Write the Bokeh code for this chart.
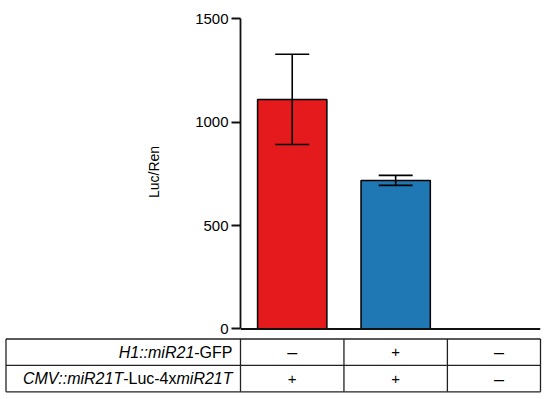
from bokeh.plotting import figure
from bokeh.models import Range1d, ColumnDataSource, Whisker, TeeHead, Span
from bokeh.core.properties import value
from bokeh.embed import file_html
from bokeh.resources import INLINE

# ---- data ----
h1_mir21_gfp = ["\u2013", "+", "\u2013"]
cmv_luc = ["+", "+", "\u2013"]
luc_ren_mean = [1109, 718, None]
luc_ren_err = [218, 24, None]
bar_colors = ["#E41A1C", "#1F77B4", None]
y_ticks = [0, 500, 1000, 1500]
row_label_1 = [("H1::miR21", "italic"), ("-GFP", "normal")]
row_label_2 = [("CMV::miR21T", "italic"), ("-Luc-4x", "normal"), ("miR21T", "italic")]

FONT = "Liberation Sans"
n = len(luc_ren_mean)
xs = list(range(n))

# ---- bar chart ----
p = figure(width=548, height=337, output_backend="svg", toolbar_location=None,
           x_range=Range1d(-0.5, n - 0.6), y_range=Range1d(-12.08, 1529),
           min_border_left=240, min_border_right=8, min_border_top=12, min_border_bottom=6)
p.outline_line_color = None
p.grid.visible = False
p.xaxis.visible = False
p.background_fill_color = None
p.border_fill_color = None

idx = [i for i in xs if luc_ren_mean[i] is not None]
src = ColumnDataSource(dict(
    x=[xs[i] for i in idx],
    top=[luc_ren_mean[i] for i in idx],
    upper=[luc_ren_mean[i] + luc_ren_err[i] for i in idx],
    lower=[luc_ren_mean[i] - luc_ren_err[i] for i in idx],
    color=[bar_colors[i] for i in idx],
))
p.vbar(x="x", top="top", bottom=0, width=0.67, source=src, fill_color="color",
       line_color="black", line_width=1.5)
w = Whisker(base="x", upper="upper", lower="lower", source=src, line_color="black", line_width=1.6,
            upper_head=TeeHead(size=34, line_width=1.6, line_color="black"),
            lower_head=TeeHead(size=34, line_width=1.6, line_color="black"), level="overlay")
p.add_layout(w)
p.add_layout(Span(location=0, dimension="width", line_color="#111111", line_width=1.8))

ya = p.yaxis[0]
ya.ticker = y_ticks
ya.bounds = (0, 1500)
ya.axis_line_width = 1.8
ya.axis_line_color = "#111111"
ya.major_tick_line_width = 1.8
ya.major_tick_line_color = "#111111"
ya.major_tick_out = 9
ya.major_tick_in = 0
ya.minor_tick_line_color = None
ya.major_label_standoff = 3
ya.major_label_text_font = FONT
ya.major_label_text_font_size = "15px"
ya.major_label_text_color = "black"
ya.axis_label = "Luc/Ren"
ya.axis_label_text_font = FONT
ya.axis_label_text_font_size = "14px"
ya.axis_label_text_font_style = "normal"
ya.axis_label_text_color = "black"
ya.axis_label_standoff = 30

# ---- condition table ----
ppu = 300 / (n - 0.1)  # px per category unit in the top frame
x0 = -0.5 - 240 / ppu
x1 = n - 0.6 + 8 / ppu
t = figure(width=548, height=56, output_backend="svg", toolbar_location=None,
           x_range=Range1d(x0, x1), y_range=Range1d(-0.064, 2.057),
           min_border=0)
t.axis.visible = False
t.grid.visible = False
t.outline_line_color = None
t.background_fill_color = None
t.border_fill_color = None

left = x0 + 5.5 / ppu
right = n - 0.6
vx = [left, -0.5] + [i + 0.5 for i in xs[:-1]] + [right]
t.segment(x0=vx, x1=vx, y0=[0] * len(vx), y1=[2] * len(vx), line_color="#222222", line_width=1.3)
t.segment(x0=[left] * 3, x1=[right] * 3, y0=[0, 1, 2], y1=[0, 1, 2], line_color="#222222", line_width=1.3)

cells = ColumnDataSource(dict(
    x=xs + xs,
    y=[1.5] * n + [0.5] * n,
    text=h1_mir21_gfp + cmv_luc,
    size=["18px" if s != "+" else "15px" for s in h1_mir21_gfp + cmv_luc],
))
t.text(x="x", y="y", text="text", source=cells, text_align="center", text_baseline="middle",
       text_font=value(FONT), text_font_size="size", text_color="black")

# widths (em) of Liberation Sans glyphs, for right-aligning mixed-style labels
W = {'H': .722, '1': .556, ':': .278, 'm': .833, 'i': .222, 'R': .722, '2': .556, '-': .333,
     'G': .778, 'F': .611, 'P': .667, 'C': .722, 'M': .833, 'V': .667, 'T': .611, 'L': .556,
     'u': .556, 'c': .5, '4': .556, 'x': .5}
LFS = 16


def draw_label(parts, yrow):
    off = -8.0
    for txt, style in reversed(parts):
        t.text(x=[-0.5], y=[yrow], text=[txt], x_offset=off, text_align="right",
               text_baseline="middle", text_font=value(FONT), text_font_size=f"{LFS}px",
               text_font_style=style, text_color="black")
        off -= sum(W[c] for c in txt) * LFS


draw_label(row_label_1, 1.5)
draw_label(row_label_2, 0.5)

open("out.html", "w").write(file_html([p, t], INLINE))
